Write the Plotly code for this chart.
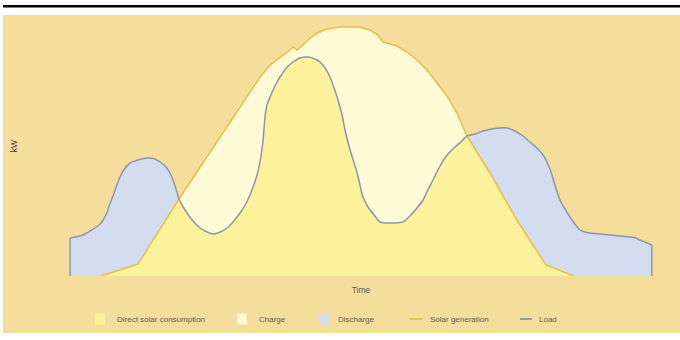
import plotly.graph_objects as go

# ---- data: time of day (h) and power (kW) ----
load_h = [0.00, 0.00, 0.41, 0.70, 0.82, 1.03, 1.24, 1.36, 1.53, 1.65, 1.77, 1.90, 2.06, 2.27,
          2.47, 2.80, 3.18, 3.51, 3.71, 3.92, 4.12, 4.33, 4.49, 4.66, 4.82, 5.07, 5.36, 5.65,
          5.90, 6.19, 6.47, 6.72, 7.01, 7.22, 7.42, 7.71, 7.88, 7.96, 8.04, 8.12, 8.25, 8.45,
          8.66, 8.95, 9.20, 9.48, 9.81, 10.10, 10.31, 10.52, 10.72, 10.89, 11.05, 11.22, 11.34,
          11.55, 11.84, 12.08, 12.29, 12.54, 12.78, 13.03, 13.32, 13.73, 14.02, 14.31, 14.56,
          14.76, 14.97, 15.26, 15.55, 15.88, 16.16, 16.37, 16.70, 17.03, 17.40, 17.73, 18.02,
          18.35, 18.68, 18.97, 19.26, 19.51, 19.67, 19.84, 20.00, 20.21, 20.41, 20.62, 20.82,
          21.03, 21.24, 21.44, 21.86, 22.27, 22.68, 23.09, 23.34, 23.51, 23.71, 24.00, 24.00]
load_kw = [0.00, 1.52, 1.60, 1.72, 1.80, 1.92, 2.08, 2.24, 2.56, 2.92, 3.20, 3.56, 3.96, 4.32,
           4.52, 4.64, 4.72, 4.68, 4.56, 4.40, 4.12, 3.60, 3.08, 2.76, 2.52, 2.20, 1.92, 1.76,
           1.68, 1.76, 1.92, 2.16, 2.52, 2.84, 3.24, 4.04, 4.84, 5.44, 6.36, 6.84, 7.16, 7.60,
           7.96, 8.36, 8.56, 8.72, 8.76, 8.68, 8.56, 8.32, 7.96, 7.52, 7.04, 6.44, 5.84,
           5.04, 4.12, 3.16, 2.76, 2.44, 2.16, 2.12, 2.12, 2.16, 2.40, 2.72, 3.04,
           3.44, 3.84, 4.40, 4.84, 5.16, 5.40, 5.60, 5.68, 5.80, 5.88, 5.92, 5.92,
           5.80, 5.60, 5.36, 5.12, 4.84, 4.56, 4.16, 3.64, 3.04, 2.68, 2.36, 2.08,
           1.84, 1.76, 1.72, 1.68, 1.64, 1.60, 1.56, 1.52, 1.44, 1.36, 1.24, 0.00]

solar_h = [1.28, 2.80, 4.49, 6.10, 7.42, 7.84, 8.25, 8.66, 8.91, 9.07, 9.20, 9.36, 9.61, 9.81,
           10.19, 10.60, 11.13, 11.55, 11.96, 12.37, 12.70, 12.91, 13.20, 13.48, 13.90, 14.31,
           14.72, 15.13, 15.55, 15.96, 16.37, 17.32, 18.43, 19.63, 20.78]
solar_kw = [0.00, 0.48, 3.08, 5.44, 7.36, 7.96, 8.44, 8.72, 8.92, 9.04, 9.16, 9.04, 9.24, 9.44,
            9.72, 9.88, 9.96, 9.96, 9.96, 9.84, 9.64, 9.36, 9.28, 9.20, 8.96, 8.64,
            8.24, 7.72, 7.20, 6.52, 5.60, 4.12, 2.24, 0.44, 0.00]

legend_names = ["Direct solar consumption", "Charge", "Discharge", "Solar generation", "Load"]

# ---- colours ----
BG = "#F5DE9B"
C_DIRECT = "#FCF29B"
C_CHARGE = "#FEFAD6"
C_DISCHARGE = "#D4DDF0"
C_SOLAR = "#E8BE46"
C_LOAD = "#8C96AA"
TXT = "#5a5a5a"

# Direct consumption follows whichever curve is lower: solar before the first
# crossing, load between the crossings, solar after the second one.
load_pts = set(zip(load_h, load_kw))
cross = [h for h, k in zip(solar_h, solar_kw) if (h, k) in load_pts and k > 0]
c1, c2 = cross[0], cross[-1]
direct_h, direct_kw = [], []
for h, k in zip(solar_h, solar_kw):
    if h <= c1:
        direct_h.append(h); direct_kw.append(k)
for h, k in zip(load_h, load_kw):
    if c1 < h < c2:
        direct_h.append(h); direct_kw.append(k)
for h, k in zip(solar_h, solar_kw):
    if h >= c2:
        direct_h.append(h); direct_kw.append(k)

# smooth curve for the load body; the vertical start/end edges stay straight
body_h, body_kw = load_h[1:-1], load_kw[1:-1]
SMOOTH = 0.6
fig = go.Figure()
# discharge: everything under the load curve (later covered where solar is present)
fig.add_trace(go.Scatter(x=body_h, y=body_kw, fill="tozeroy", fillcolor=C_DISCHARGE,
                         mode="lines", line=dict(width=0, shape="spline", smoothing=SMOOTH),
                         hoverinfo="skip", showlegend=False))
# charge: everything under the solar curve
fig.add_trace(go.Scatter(x=solar_h, y=solar_kw, fill="tozeroy", fillcolor=C_CHARGE,
                         mode="lines", line=dict(width=0), hoverinfo="skip", showlegend=False))
# direct solar consumption: under the lower envelope
fig.add_trace(go.Scatter(x=direct_h, y=direct_kw, fill="tozeroy", fillcolor=C_DIRECT,
                         mode="lines", line=dict(width=0, shape="spline", smoothing=0.35),
                         hoverinfo="skip", showlegend=False))
# outlines
fig.add_trace(go.Scatter(x=solar_h, y=solar_kw, mode="lines",
                         line=dict(color=C_SOLAR, width=1.5), showlegend=False))
fig.add_trace(go.Scatter(x=body_h, y=body_kw, mode="lines",
                         line=dict(color=C_LOAD, width=1.5, shape="spline", smoothing=SMOOTH),
                         showlegend=False))
for sl in (slice(0, 2), slice(-2, None)):
    fig.add_trace(go.Scatter(x=load_h[sl], y=load_kw[sl], mode="lines",
                             line=dict(color=C_LOAD, width=1.5), showlegend=False))

# figure geometry (pixels)
W, H = 680, 340
ML, MR, MT, MB = 58, 16, 16, 64
PW, PH = W - ML - MR, H - MT - MB


def px(x):
    return (x - ML) / PW


def py(y):
    return (H - MB - y) / PH


shapes = [
    # tan panel
    dict(type="rect", xref="paper", yref="paper", x0=px(3), x1=px(684), y0=py(333), y1=py(15),
         fillcolor=BG, line=dict(width=0), layer="below"),
    # rule across the top
    dict(type="line", xref="paper", yref="paper", x0=px(3), x1=px(684), y0=py(6.3), y1=py(6.3),
         line=dict(color="#000000", width=2.6)),
]
annotations = []

# hand-placed legend row
legend_x = [95, 237, 319, 410, 520]
text_x = [115, 257, 336, 428, 537]
swatch = [C_DIRECT, C_CHARGE, C_DISCHARGE, C_SOLAR, C_LOAD]
LY = 319
for i, name in enumerate(legend_names):
    if i < 3:
        shapes.append(dict(type="rect", xref="paper", yref="paper",
                           x0=px(legend_x[i]), x1=px(legend_x[i] + 10),
                           y0=py(LY + 5.5), y1=py(LY - 5.5),
                           fillcolor=swatch[i], line=dict(width=0)))
    else:
        shapes.append(dict(type="line", xref="paper", yref="paper",
                           x0=px(legend_x[i]), x1=px(legend_x[i] + 12),
                           y0=py(LY), y1=py(LY),
                           line=dict(color=swatch[i], width=1.8)))
    annotations.append(dict(text=name, xref="paper", yref="paper", x=px(text_x[i]), y=py(LY),
                            xanchor="left", yanchor="middle", showarrow=False,
                            font=dict(size=8, color=TXT)))

fig.update_layout(
    width=W, height=H,
    margin=dict(l=ML, r=MR, t=MT, b=MB),
    paper_bgcolor="#ffffff",
    plot_bgcolor=BG,
    font=dict(family="Liberation Sans, Arial, sans-serif"),
    shapes=shapes,
    annotations=annotations,
    showlegend=False,
)
fig.update_xaxes(range=[-0.5, 24.5], showgrid=False, zeroline=False, showline=False,
                 showticklabels=False, ticks="",
                 title=dict(text="Time", font=dict(size=8.5, color="#555555"), standoff=11))
fig.update_yaxes(range=[0, 10.4], showgrid=False, zeroline=False, showline=False,
                 showticklabels=False, ticks="",
                 title=dict(text="kW", font=dict(size=8.5, color="#333333"), standoff=38))

fig.write_html("out.html")
